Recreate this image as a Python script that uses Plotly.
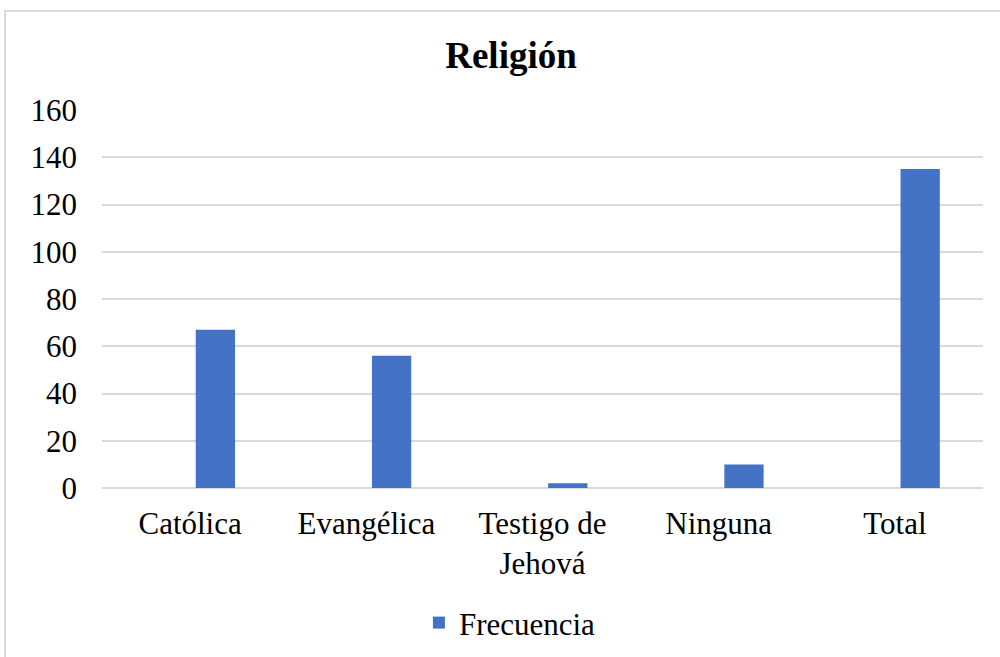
import plotly.graph_objects as go

# Religion frequency data
categorias = ["Católica", "Evangélica", "Testigo de<br>Jehová", "Ninguna", "Total"]
frecuencia = [67, 56, 2, 10, 135]
y_ticks = [0, 20, 40, 60, 80, 100, 120, 140, 160]

AZUL = "#4472C4"
GRIS = "#d9d9d9"
FUENTE = "Liberation Serif, Times New Roman, serif"

fig = go.Figure()
fig.add_trace(go.Bar(
    x=categorias,
    y=frecuencia,
    name="Frecuencia",
    marker=dict(color=AZUL, line=dict(width=0)),
    offset=0.032,
    width=0.223,
))

fig.update_layout(
    width=1000,
    height=657,
    margin=dict(l=102, r=17, t=110, b=169, autoexpand=False),
    paper_bgcolor="white",
    plot_bgcolor="white",
    font=dict(family=FUENTE, size=31, color="black"),
    title=dict(
        text="<b>Religión</b>",
        font=dict(family=FUENTE, size=37, color="black"),
        x=0.511, xanchor="center",
        y=1 - 55 / 657, yanchor="middle",
    ),
    showlegend=True,
    legend=dict(
        orientation="h",
        x=0.463, xanchor="center",
        y=-0.357, yanchor="middle",
        font=dict(family=FUENTE, size=31, color="black"),
        itemwidth=30,
        bgcolor="rgba(0,0,0,0)",
    ),
    xaxis=dict(
        type="category",
        automargin=False,
        showgrid=False,
        showline=False,
        ticks="",
        tickfont=dict(family=FUENTE, size=31, color="black"),
        ticklabelstandoff=14,
    ),
    yaxis=dict(
        range=[0, 160],
        tickvals=y_ticks,
        automargin=False,
        showgrid=True,
        gridcolor=GRIS,
        gridwidth=2,
        zeroline=True,
        zerolinecolor=GRIS,
        zerolinewidth=2,
        showline=False,
        ticks="",
        tickfont=dict(family=FUENTE, size=31, color="black"),
        ticklabelstandoff=24,
    ),
    shapes=[
        dict(
            type="rect",
            xref="paper", yref="paper",
            x0=(5 - 102) / 881, x1=1.2,
            y0=-0.6, y1=(488 - 11) / 378,
            line=dict(color=GRIS, width=2),
            fillcolor="rgba(0,0,0,0)",
            layer="below",
        )
    ],
)

fig.write_html("out.html")
